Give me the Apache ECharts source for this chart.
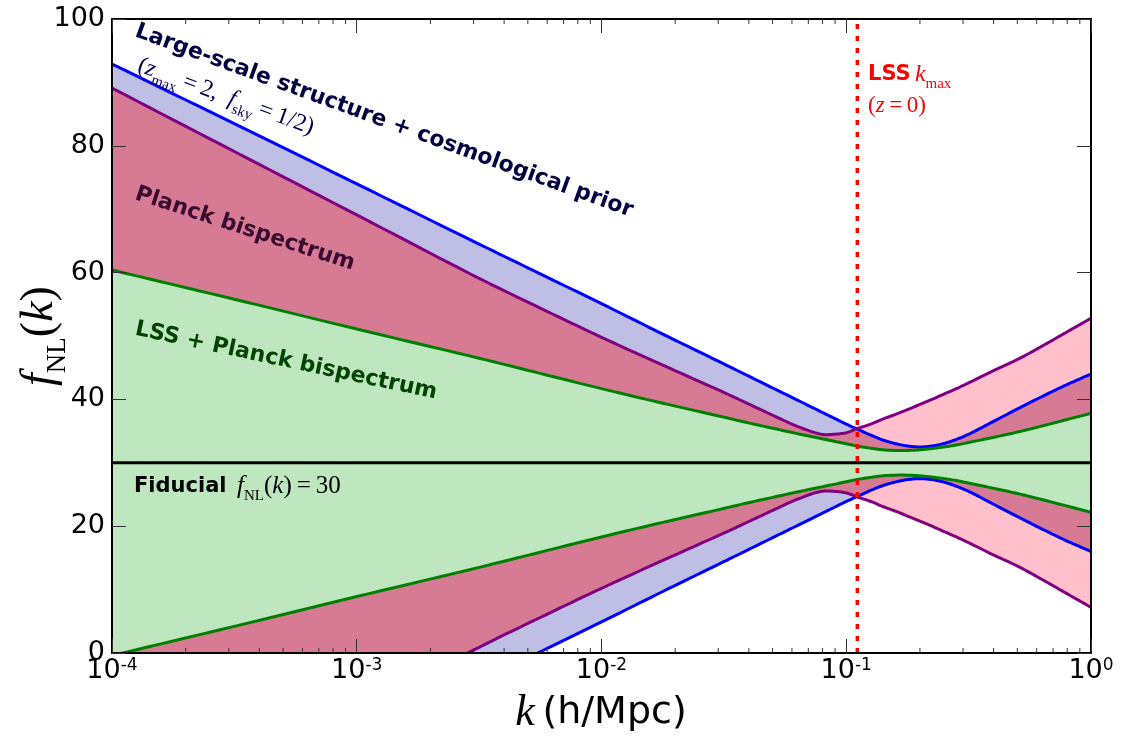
<!DOCTYPE html>
<html><head><meta charset="utf-8">
<script src="https://cdn.jsdelivr.net/npm/echarts@6/dist/echarts.min.js"></script>
<style>html,body{margin:0;padding:0;background:#fff}#c{width:1123px;height:736px}</style>
</head><body><div id="c"></div>
<script>
// ---- data ----
const kValues = [0.0001, 0.000316, 0.001, 0.00316, 0.00562, 0.01, 0.0178, 0.0316, 0.0398, 0.0501,
  0.0631, 0.0794, 0.0891, 0.1, 0.112, 0.126, 0.141, 0.158, 0.178, 0.2,
  0.224, 0.251, 0.282, 0.316, 0.398, 0.501, 0.631, 0.794, 1.0];
// 1-sigma widths around the fiducial value
const sigmaLSS = [62.9, 53.5, 44.0, 34.5, 29.8, 25.1, 20.3, 15.6, 13.7, 11.8,
  9.9, 8.0, 7.05, 6.1, 5.25, 4.35, 3.6, 3.05, 2.65, 2.5,
  2.65, 3.05, 3.7, 4.5, 6.5, 8.5, 10.45, 12.3, 14.0];
const sigmaPlanck = [59.1, 49.1, 39.1, 29.1, 24.4, 19.8, 15.4, 11.1, 9.3, 7.5,
  5.75, 4.5, 4.5, 4.75, 5.45, 6.1, 6.9, 7.6, 8.4, 9.2,
  10.0, 10.85, 11.7, 12.6, 14.5, 16.3, 18.4, 20.6, 22.8];
const sigmaCombined = [30.4, 25.8, 21.1, 16.5, 14.1, 11.7, 9.4, 7.2, 6.3, 5.45,
  4.6, 3.8, 3.4, 3.0, 2.6, 2.3, 2.05, 1.95, 1.95, 2.05,
  2.25, 2.5, 2.8, 3.2, 4.0, 4.85, 5.8, 6.8, 7.8];
const fiducial = 30;
const kmaxLSS = 0.111;
const yTicks = [0, 20, 40, 60, 80, 100];
const minorTicks = [0.0002,0.0003,0.0004,0.0005,0.0006,0.0007,0.0008,0.0009,
  0.002,0.003,0.004,0.005,0.006,0.007,0.008,0.009,
  0.02,0.03,0.04,0.05,0.06,0.07,0.08,0.09,
  0.2,0.3,0.4,0.5,0.6,0.7,0.8,0.9];

// ---- derived ----
const sigmaOverlap = sigmaLSS.map((v, i) => Math.min(v, sigmaPlanck[i]));

// smooth rendering (centripetal Catmull-Rom) of pixel points given by the axes
function spline(pts, seg) {
  const n = pts.length, out = [pts[0]];
  const lerp = (a, b, ta, tb, t) => {
    const w = (t - ta) / (tb - ta);
    return [a[0] + (b[0] - a[0]) * w, a[1] + (b[1] - a[1]) * w];
  };
  const dist = (a, b) => Math.max(Math.pow(Math.hypot(b[0] - a[0], b[1] - a[1]), 0.5), 1e-4);
  for (let i = 0; i < n - 1; i++) {
    const p1 = pts[i], p2 = pts[i + 1];
    const p0 = i > 0 ? pts[i - 1] : [2 * p1[0] - p2[0], 2 * p1[1] - p2[1]];
    const p3 = i < n - 2 ? pts[i + 2] : [2 * p2[0] - p1[0], 2 * p2[1] - p1[1]];
    const t0 = 0, t1 = t0 + dist(p0, p1), t2 = t1 + dist(p1, p2), t3 = t2 + dist(p2, p3);
    for (let j = 1; j <= seg; j++) {
      const t = t1 + (t2 - t1) * j / seg;
      const A1 = lerp(p0, p1, t0, t1, t), A2 = lerp(p1, p2, t1, t2, t), A3 = lerp(p2, p3, t2, t3, t);
      const B1 = lerp(A1, A2, t0, t2, t), B2 = lerp(A2, A3, t1, t3, t);
      out.push(lerp(B1, B2, t1, t2, t));
    }
  }
  return out;
}
const pixelCurve = (api, sig, sign) =>
  spline(kValues.map((k, i) => api.coord([k, fiducial + sign * sig[i]])), 10);
const clipOf = cs => ({ type: 'rect', shape: { x: cs.x, y: cs.y, width: cs.width, height: cs.height } });

function band(sig, color) {
  return {
    type: 'custom', silent: true, z: 2,
    data: [[0.01, 50]], encode: { x: 0, y: 1 },
    renderItem(params, api) {
      const top = pixelCurve(api, sig, 1), bot = pixelCurve(api, sig, -1).reverse();
      return { type: 'group', clipPath: clipOf(params.coordSys),
        children: [{ type: 'polygon', shape: { points: top.concat(bot) }, style: { fill: color, stroke: null } }] };
    }
  };
}
function curves(sig, color) {
  return {
    type: 'custom', silent: true, z: 3,
    data: [[0.01, 50]], encode: { x: 0, y: 1 },
    renderItem(params, api) {
      const st = { stroke: color, lineWidth: 3, fill: null, lineJoin: 'round' };
      return { type: 'group', clipPath: clipOf(params.coordSys), children: [
        { type: 'polyline', shape: { points: pixelCurve(api, sig, 1) }, style: st },
        { type: 'polyline', shape: { points: pixelCurve(api, sig, -1) }, style: st }
      ] };
    }
  };
}

const serif = '"Liberation Serif", "DejaVu Serif", serif';
const sans = '"DejaVu Sans", sans-serif';

const chart = echarts.init(document.getElementById('c'), null, { renderer: 'canvas' });
const axisX = (pos, show) => ({
  type: 'log', logBase: 10, min: 1e-4, max: 1, position: pos, z: 10,
  axisLine: { show: true, onZero: false, lineStyle: { color: '#000', width: 2 } },
  axisTick: { show: true, inside: true, length: 14, lineStyle: { color: '#333', width: 1 } },
  splitLine: { show: false },
  axisLabel: {
    show, margin: 4,
    formatter: v => '{b|10}{s|' + Math.round(Math.log10(v)) + '}',
    rich: {
      b: { fontSize: 27, fontFamily: sans, color: '#000', lineHeight: 34, verticalAlign: 'top' },
      s: { fontSize: 17, fontFamily: sans, color: '#000', lineHeight: 18, verticalAlign: 'top' }
    }
  }
});
const axisY = (pos, show) => ({
  type: 'value', min: yTicks[0], max: yTicks[yTicks.length - 1], interval: 20, position: pos, z: 10,
  axisLine: { show: true, onZero: false, lineStyle: { color: '#000', width: 2 } },
  axisTick: { show: true, inside: true, length: 14, lineStyle: { color: '#333', width: 1 } },
  splitLine: { show: false },
  axisLabel: { show, margin: 7, fontSize: 27, fontFamily: sans, color: '#000' }
});

const deg = Math.PI / 180;
const mathRich = (size, sub, L, color, extra) => Object.assign({
  p: { fontFamily: serif, fontSize: size, fill: color, verticalAlign: 'top', lineHeight: size },
  i: { fontFamily: serif, fontStyle: 'italic', fontSize: size, fill: color, verticalAlign: 'top', lineHeight: size },
  s: { fontFamily: serif, fontSize: sub, fill: color, verticalAlign: 'bottom', lineHeight: L }
}, extra || {});

chart.setOption({
  animation: false,
  backgroundColor: '#fff',
  grid: { left: 112, right: 32, top: 19, bottom: 83 },
  xAxis: [axisX('bottom', true), axisX('top', false)],
  yAxis: [axisY('left', true), axisY('right', false)],
  series: [
    band(sigmaLSS, '#bfbfe6'),
    band(sigmaPlanck, '#ffbfcb'),
    band(sigmaOverlap, '#d77b95'),
    band(sigmaCombined, '#bfe7bf'),
    curves(sigmaLSS, '#0000ff'),
    curves(sigmaPlanck, '#800080'),
    curves(sigmaCombined, '#008000'),
    { type: 'line', data: [[1e-4, fiducial], [1, fiducial]], showSymbol: false, symbol: 'none', z: 4,
      lineStyle: { color: '#000', width: 3 } },
    { type: 'line', data: [[kmaxLSS, 0], [kmaxLSS, 100]], showSymbol: false, symbol: 'none', z: 5,
      lineStyle: { color: '#ff0000', width: 3.5, type: [5, 7] } },
    { type: 'custom', z: 12, silent: true, data: minorTicks.map(k => [k, 50]), encode: { x: 0, y: 1 },
      renderItem(params, api) {
        const cs = params.coordSys;
        const x = api.coord([api.value(0), 50])[0];
        return { type: 'group', children: [
          { type: 'line', shape: { x1: x, y1: cs.y + cs.height, x2: x, y2: cs.y + cs.height - 5 }, style: { stroke: '#333', lineWidth: 1 } },
          { type: 'line', shape: { x1: x, y1: cs.y, x2: x, y2: cs.y + 5 }, style: { stroke: '#333', lineWidth: 1 } }
        ] };
      } }
  ],
  graphic: [
    { type: 'text', x: 384, y: 121, rotation: -20 * deg, z: 20,
      style: { text: 'Large-scale structure + cosmological prior', font: 'bold 22px ' + sans, fill: '#000040', align: 'center', verticalAlign: 'middle' } },
    { type: 'text', x: 225, y: 99, rotation: -20 * deg, z: 20,
      style: { text: '{p|(}{i|z}{s|max}{p|\u2009=\u20092,\u2002}{i|f}{s|sky}{p|\u2009=\u20091/2)}', align: 'center', verticalAlign: 'middle',
        rich: mathRich(24, 15, 29, '#000050') } },
    { type: 'text', x: 245, y: 229, rotation: -18 * deg, z: 20,
      style: { text: 'Planck bispectrum', font: 'bold 22px ' + sans, fill: '#3a0a30', align: 'center', verticalAlign: 'middle' } },
    { type: 'text', x: 286, y: 361, rotation: -12 * deg, z: 20,
      style: { text: 'LSS + Planck bispectrum', font: 'bold 22px ' + sans, fill: '#004400', align: 'center', verticalAlign: 'middle' } },
    { type: 'text', x: 134, y: 489, z: 20,
      style: { text: '{b|Fiducial\u2002}{i|f}{s|NL}{p|(}{i|k}{p|)\u2009=\u200930}', align: 'left', verticalAlign: 'middle',
        rich: mathRich(25, 15, 30, '#000', {
          b: { fontFamily: sans, fontWeight: 'bold', fontSize: 21, fill: '#000', verticalAlign: 'top', lineHeight: 21, padding: [2, 0, 0, 0] } }) } },
    { type: 'text', x: 868, y: 77, z: 20,
      style: { text: '{b|LSS\u2009}{i|k}{s|max}', align: 'left', verticalAlign: 'middle',
        rich: mathRich(24, 15, 29, '#ff0000', {
          b: { fontFamily: sans, fontWeight: 'bold', fontSize: 21, fill: '#ff0000', verticalAlign: 'top', lineHeight: 21, padding: [2, 0, 0, 0] } }) } },
    { type: 'text', x: 868, y: 106, z: 20,
      style: { text: '{p|(}{i|z}{p|\u2009=\u20090)}', align: 'left', verticalAlign: 'middle',
        rich: mathRich(23, 15, 23, '#ff0000') } },
    { type: 'text', x: 44, y: 336, rotation: 90 * deg, z: 20,
      style: { text: '{i|f}{s|NL}{p|(}{i|k}{p|)}', align: 'center', verticalAlign: 'middle',
        rich: mathRich(46, 27, 54, '#000') } },
    { type: 'text', x: 601, y: 713, z: 20,
      style: { text: '{i|k}{n|\u2009(h/Mpc)}', align: 'center', verticalAlign: 'middle',
        rich: {
          i: { fontFamily: serif, fontStyle: 'italic', fontSize: 44, fill: '#000' },
          n: { fontFamily: sans, fontSize: 38, fill: '#000' }
        } } }
  ]
});
</script></body></html>
